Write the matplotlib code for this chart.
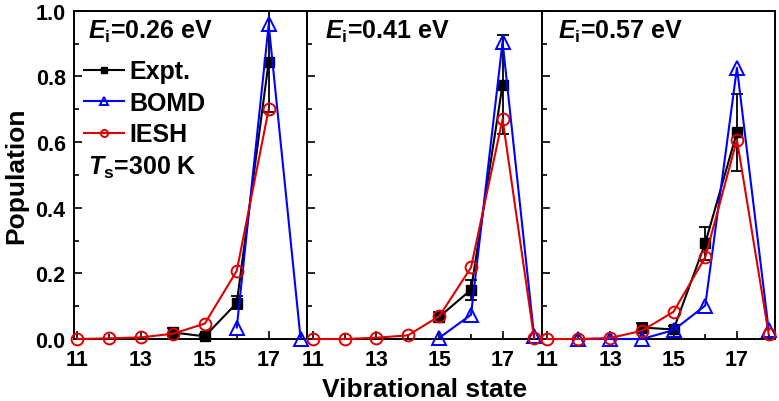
import numpy as np
import matplotlib
matplotlib.use('Agg')
from matplotlib import pyplot as plt
from matplotlib.ticker import MultipleLocator, FormatStrFormatter

plt.rcParams['font.family'] = ['Liberation Sans', 'DejaVu Sans']
plt.rcParams['font.weight'] = 'bold'
plt.rcParams['mathtext.fontset'] = 'custom'
plt.rcParams['mathtext.it'] = 'Liberation Sans:italic:bold'
plt.rcParams['mathtext.rm'] = 'Liberation Sans:bold'
plt.rcParams['mathtext.bf'] = 'Liberation Sans:bold'

nan = np.nan
states = np.arange(11, 19)  # vibrational states 11..18

# panel titles (incidence energies)
energies = ['0.26', '0.41', '0.57']

# experiment + error bars, per panel
expt = [
    [nan, nan, nan, 0.020, 0.008, 0.110, 0.845, nan],
    [nan, nan, nan, nan, 0.068, 0.150, 0.775, nan],
    [nan, nan, nan, 0.035, 0.029, 0.292, 0.630, nan],
]
expt_err = [
    [nan, nan, nan, 0.012, 0.006, 0.020, 0.155, nan],
    [nan, nan, nan, nan, 0.015, 0.030, 0.150, nan],
    [nan, nan, nan, 0.014, 0.010, 0.050, 0.117, nan],
]
# BOMD
bomd = [
    [nan, nan, nan, nan, nan, 0.035, 0.958, 0.000],
    [nan, nan, nan, nan, 0.004, 0.074, 0.905, 0.008],
    [nan, 0.000, 0.000, 0.000, 0.027, 0.102, 0.826, 0.028],
]
# IESH
iesh = [
    [0.000, 0.002, 0.005, 0.016, 0.047, 0.208, 0.700, nan],
    [0.000, 0.000, 0.004, 0.011, 0.070, 0.218, 0.670, 0.002],
    [0.000, 0.000, 0.003, 0.025, 0.083, 0.249, 0.607, 0.015],
]

fig = plt.figure(figsize=(7.79, 4.02), dpi=100)

# axes layout in pixels (left, right) and x-limits per panel
W, H = 779, 402
lefts = [74, 307, 542]
rights = [307, 542, 775]
xlims = [(10.9, 18.2), (10.8, 18.25), (10.85, 18.2)]
top, bot = 11.7, 340
text_x = [0.06, 0.077, 0.069]

for i in range(3):
    ax = fig.add_axes([lefts[i] / W, 1 - bot / H, (rights[i] - lefts[i]) / W, (bot - top) / H])
    e = np.array(expt[i]); m = ~np.isnan(e)
    ax.errorbar(states[m], e[m], yerr=np.array(expt_err[i])[m], fmt='none', ecolor='black',
                elinewidth=1.3, capsize=4, capthick=1.3, clip_on=False, zorder=3)
    ax.plot(states[m], e[m], color='black', marker='s', ms=7, lw=1.5, label='Expt.',
            clip_on=False, zorder=3)
    b = np.array(bomd[i]); m = ~np.isnan(b)
    ax.plot(states[m], b[m], color='#0000ff', marker='^', ms=10, mfc='none', mew=1.4,
            lw=1.5, label='BOMD', clip_on=False, zorder=3)
    r = np.array(iesh[i]); m = ~np.isnan(r)
    ax.plot(states[m], r[m], color='#e00000', marker='o', ms=8.5, mfc='none', mew=1.4,
            lw=1.5, label='IESH', clip_on=False, zorder=3)

    ax.set_xlim(*xlims[i])
    ax.set_ylim(0, 1.0)
    ax.xaxis.set_major_locator(MultipleLocator(2, offset=1))
    ax.xaxis.set_minor_locator(MultipleLocator(1))
    ax.yaxis.set_major_locator(MultipleLocator(0.2))
    ax.yaxis.set_minor_locator(MultipleLocator(0.1))
    ax.yaxis.set_major_formatter(FormatStrFormatter('%.1f'))
    ax.tick_params(which='both', direction='in', width=1.2, labelsize=15.5)
    ax.tick_params(which='major', length=5.5)
    ax.tick_params(which='minor', length=3.5)
    ax.tick_params(axis='x', pad=7)
    ax.tick_params(axis='y', pad=6)
    if i > 0:
        ax.tick_params(axis='y', labelleft=False)
    for s in ax.spines.values():
        s.set_linewidth(1.4)

    ax.text(text_x[i], 0.938, r'$E_{\mathrm{i}}$=' + energies[i] + ' eV', transform=ax.transAxes,
            fontsize=18, va='center', ha='left')
    if i == 0:
        ax.legend(loc='upper left', bbox_to_anchor=(0.0, 0.882), frameon=False, fontsize=18,
                  handlelength=1.6, handletextpad=0.2, labelspacing=0.3, borderaxespad=0,
                  markerscale=0.6)
        ax.text(0.06, 0.525, r'$T_{\mathrm{s}}$=300 K', transform=ax.transAxes,
                fontsize=18, va='center', ha='left')

fig.text(424.5 / W, 1 - 390 / H, 'Vibrational state', fontsize=19, ha='center', va='center')
fig.text(16 / W, 1 - 176 / H, 'Population', fontsize=19, rotation=90, ha='center', va='center')

plt.savefig('out.png', dpi=100)
